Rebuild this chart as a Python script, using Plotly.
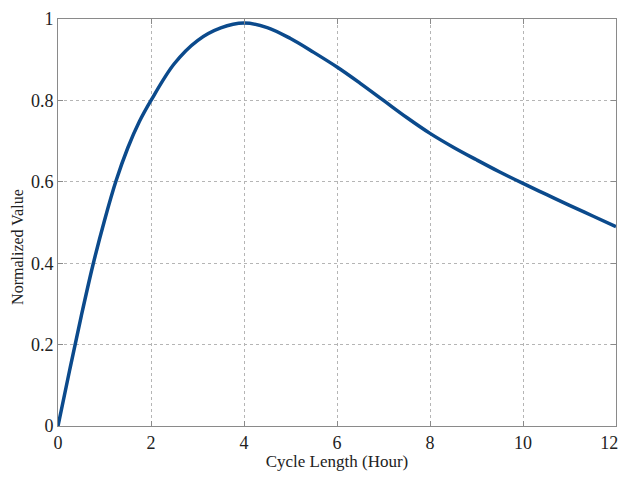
import plotly.graph_objects as go

cycle_length = [0, 0.25, 0.5, 0.75, 1, 1.25, 1.5, 1.75, 2, 2.5, 3, 3.5, 4, 4.5,
                5, 5.5, 6, 6.5, 7, 7.5, 8, 8.5, 9, 9.5, 10, 10.5, 11, 11.5, 12]
normalized_value = [0, 0.137, 0.27, 0.395, 0.505, 0.603, 0.683, 0.748, 0.80,
                    0.89, 0.947, 0.978, 0.99, 0.979, 0.952, 0.918, 0.882,
                    0.842, 0.8, 0.758, 0.719, 0.685, 0.654, 0.624, 0.596,
                    0.569, 0.542, 0.516, 0.49]

x_ticks = [0, 2, 4, 6, 8, 10, 12]
x_tick_labels = ["0", "2", "4", "6", "8", "10", "12\u00a0\u00a0\u00a0"]
y_ticks = [0, 0.2, 0.4, 0.6, 0.8, 1]
y_tick_labels = ["0", "0.2", "0.4", "0.6", "0.8", "1"]

fig = go.Figure()
fig.add_trace(go.Scatter(
    x=cycle_length, y=normalized_value, mode="lines",
    line=dict(color="#0b4a8c", width=3.5, shape="spline", smoothing=1),
    showlegend=False,
))

axis_common = dict(
    showline=True, linecolor="#8a8a8a", linewidth=1, mirror="ticks",
    ticks="inside", ticklen=5, tickcolor="#8a8a8a",
    showgrid=True, gridcolor="#b5b5b5", griddash="dot", gridwidth=1,
    zeroline=False, automargin=False, ticklabeloverflow="allow",
    tickfont=dict(family="Liberation Serif", size=18, color="#222"),
)

# page body has an 8px default margin; the figure is offset by it
fig.update_layout(
    width=618, height=463,
    margin=dict(l=50, r=10, t=11, b=45),
    paper_bgcolor="white", plot_bgcolor="white",
    xaxis=dict(range=[0, 12], tickvals=x_ticks, ticktext=x_tick_labels,
               title=dict(text="Cycle Length (Hour)", standoff=3,
                          font=dict(family="Liberation Serif", size=17, color="#222")),
               **axis_common),
    yaxis=dict(range=[0, 1], tickvals=y_ticks, ticktext=y_tick_labels,
               **axis_common),
    annotations=[dict(
        text="Normalized Value", textangle=-90, showarrow=False,
        xref="paper", yref="paper", x=0, y=0.44, xanchor="center", yanchor="middle",
        xshift=-40, font=dict(family="Liberation Serif", size=16, color="#222"),
    )],
)

fig.write_html("out.html")
